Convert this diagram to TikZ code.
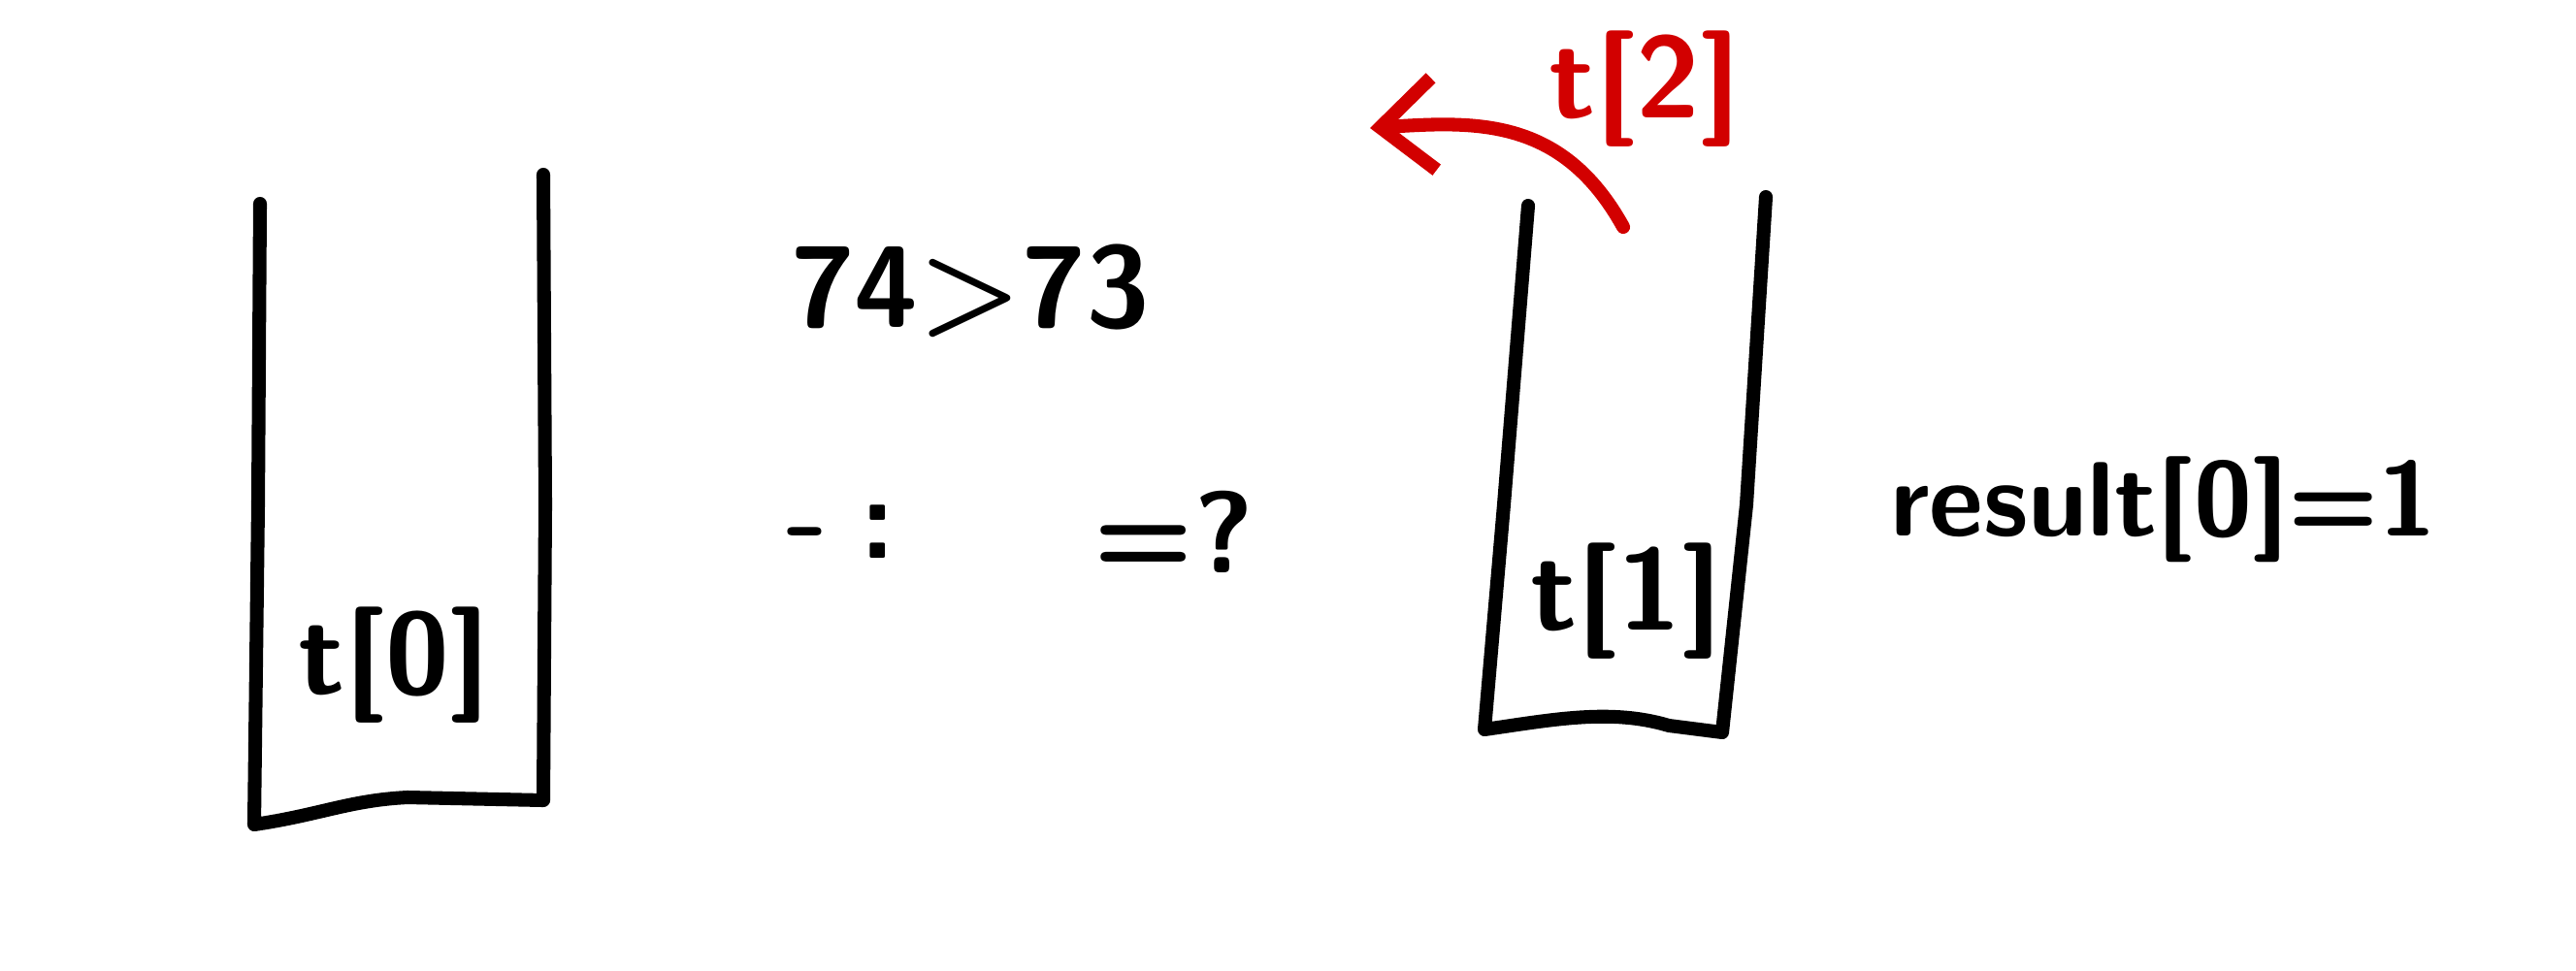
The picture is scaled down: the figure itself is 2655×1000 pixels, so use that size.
\documentclass[tikz,border=0pt]{standalone}
\usepackage{tikz}
\usetikzlibrary{positioning}
\usetikzlibrary{calc}
\usetikzlibrary{arrows.meta}
\definecolor{redink}{RGB}{210,0,0}

\begin{document}
\begin{tikzpicture}
			[
				x = 0.01cm, y = -0.01cm,
				myink/.style = {line width = 4pt, line cap = round, line join = round},
				mytext/.style = {font = \fontsize{34}{40}\selectfont\sffamily\bfseries, inner sep = 0pt},
				myredarrow/.style = {myink, redink, -{Straight Barb[length = 0.55cm, width = 0.95cm, line width = 4pt]}}
			]
			\useasboundingbox (0,0) rectangle (2655,1000);
			%
			% left box, open at the top
			\draw [myink] (268,210) -- (266,520) -- (262,850) .. controls (330,840) and (360,825) .. (420,822) -- (560,825) -- (562,520) -- (560,180);
			\node (tleft) [mytext] at (406,686) {t[0]};
			%
			\node (compare) [mytext] at (1000,300) {74>73};
			%
			\node (dash) [mytext] at (832,560) {-};
			\node (colon) [mytext] at (905,548) {:};
			\node (question) [mytext] at (1210,548) {=?};
			%
			% right box, open at the top
			\draw [myink] (1575,212) -- (1550,520) -- (1530,752) .. controls (1600,742) and (1660,730) .. (1720,748) -- (1775,755) -- (1800,520) -- (1820,203);
			\node (tright) [mytext] at (1676,620) {t[1]};
			%
			\node (tred) [mytext, redink] at (1695,92) {t[2]};
			\coordinate (arcstart) at (1673,234);
			\coordinate (arctip) at (1412,132);
			\draw [myredarrow] (arcstart) .. controls (1610,120) and (1520,125) .. (arctip);
			%
			\node (result) [mytext, font = \fontsize{31}{36}\selectfont\sffamily\bfseries] at (2230,525) {result[0]=1};
			%
		\end{tikzpicture}
\end{document}
